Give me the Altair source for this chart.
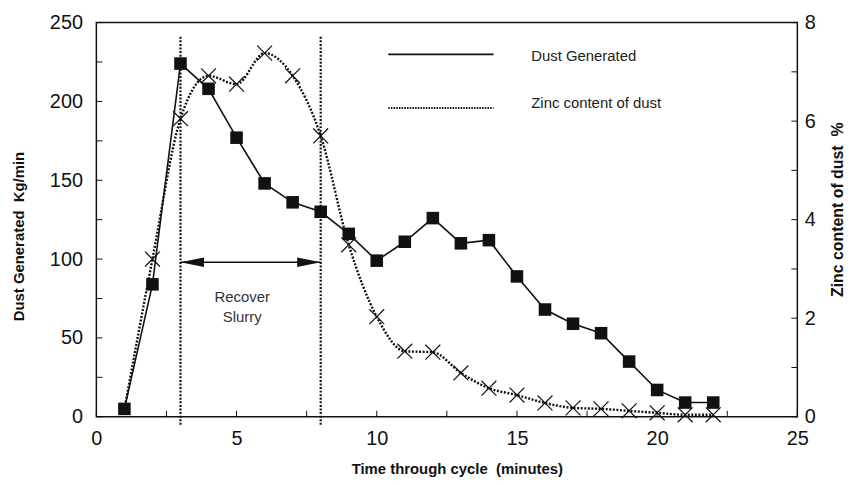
import altair as alt
import pandas as pd

# ---- data ----
time = list(range(1, 23))
dust = [5, 84, 224, 208, 177, 148, 136, 130, 116, 99, 111, 126, 110, 112, 89, 68, 59, 53, 35, 17, 9, 9]
zinc = [0.15, 3.2, 6.05, 6.92, 6.75, 7.38, 6.92, 5.7, 3.49, 2.03, 1.33, 1.31, 0.89, 0.58,
        0.44, 0.28, 0.18, 0.16, 0.12, 0.08, 0.04, 0.04]

x_tick_values = [0, 2.5, 5, 7.5, 10, 12.5, 15, 17.5, 20, 22.5, 25]
x_label_values = [0, 5, 10, 15, 20, 25]
dust_tick_values = [0, 25, 50, 75, 100, 125, 150, 175, 200, 225, 250]
dust_label_values = [0, 50, 100, 150, 200, 250]
zinc_tick_values = [0, 1, 2, 3, 4, 5, 6, 7, 8]
zinc_label_values = [0, 2, 4, 6, 8]

recover_bounds = [3, 8]
rule_span = [241, -5]
arrow_level = 98
annotation_lines = ["Recover", "Slurry"]
annotation_x = [5.2, 5.2]
annotation_y = [76, 63]
legend_labels = ["Dust Generated", "Zinc content of dust"]

W, H = 706, 397
FONT = "Liberation Sans"
INK = "#111111"
GAP = "\u00a0\u00a0"

df = pd.DataFrame({"time": time, "dust": dust, "zinc": zinc})
df_pts = df[df["time"] > 1]

x_axis = alt.Axis(values=x_label_values, title="Time through cycle" + GAP + "(minutes)", grid=False,
                  ticks=False, tickSize=0, domain=False, labelPadding=12, labelFontSize=20,
                  labelFlush=False, labelOverlap=False,
                  labelFont=FONT, labelColor=INK, titleFont=FONT, titleFontSize=15,
                  titleFontWeight="bold", titleColor=INK, titleX=363, titleY=52,
                  titleBaseline="middle", titleAlign="center")
x_scale = alt.Scale(domain=[0, 25], nice=False, zero=False)


def X(field="time"):
    return alt.X(f"{field}:Q", scale=x_scale, axis=x_axis)


dust_axis = alt.Axis(values=dust_label_values, title="Dust Generated" + GAP + "Kg/min", grid=False,
                     ticks=False, tickSize=0, domain=False, labelPadding=14, labelFontSize=20,
                     labelFlush=False, labelOverlap=False,
                     labelFont=FONT, labelColor=INK, titleFont=FONT, titleFontSize=15,
                     titleFontWeight="bold", titleColor=INK, titleX=-78, titleY=215,
                     titleAngle=270, titleBaseline="middle", titleAlign="center")
dust_scale = alt.Scale(domain=[0, 250], nice=False, zero=False)


def YD(field="dust"):
    return alt.Y(f"{field}:Q", scale=dust_scale, axis=dust_axis)


zinc_axis = alt.Axis(values=zinc_label_values, orient="right", title="Zinc content of dust" + GAP + "%",
                     grid=False, ticks=False, tickSize=0, domain=False, labelPadding=7,
                     labelFlush=False, labelOverlap=False,
                     labelFontSize=20, labelFont=FONT, labelColor=INK, titleFont=FONT,
                     titleFontSize=16, titleFontWeight="bold", titleColor=INK, titleX=40,
                     titleY=188, titleAngle=270, titleBaseline="middle", titleAlign="center")
zinc_scale = alt.Scale(domain=[0, 8], nice=False, zero=False)


def YZ(field="zinc"):
    return alt.Y(f"{field}:Q", scale=zinc_scale, axis=zinc_axis)


# ---- left (dust) group ----
dust_line = alt.Chart(df).mark_line(color=INK, strokeWidth=1.6).encode(x=X(), y=YD())
dust_pts = alt.Chart(df).mark_point(shape="square", filled=True, size=160, color=INK,
                                    opacity=1).encode(x=X(), y=YD())

rules_df = pd.DataFrame({"time": recover_bounds, "dust": [rule_span[0]] * 2,
                         "dust_end": [rule_span[1]] * 2})
vrules = alt.Chart(rules_df).mark_rule(color=INK, strokeWidth=2.2, strokeDash=[2, 1.6]).encode(
    x=X(), y=YD(), y2=alt.Y2("dust_end:Q"))

shaft_df = pd.DataFrame({"time": [recover_bounds[0]], "time_end": [recover_bounds[1]],
                         "dust": [arrow_level]})
shaft = alt.Chart(shaft_df).mark_rule(color=INK, strokeWidth=1.5).encode(
    x=X(), x2=alt.X2("time_end:Q"), y=YD())

head_df = pd.DataFrame({"time": recover_bounds, "dust": [arrow_level] * 2, "dir": ["l", "r"]})
heads = alt.Chart(head_df).mark_point(filled=True, size=560, color=INK, opacity=1,
                                      strokeWidth=0).encode(
    x=X(), y=YD(),
    shape=alt.Shape("dir:N", scale=alt.Scale(domain=["l", "r"],
                                             range=["M0,0L2,-0.4L2,0.4Z", "M0,0L-2,-0.4L-2,0.4Z"]),
                    legend=None))

ann_df = pd.DataFrame({"time": annotation_x, "dust": annotation_y, "txt": annotation_lines})
ann = alt.Chart(ann_df).mark_text(font=FONT, fontSize=15, color="#333333").encode(
    x=X(), y=YD(), text="txt:N")

dust_tick_df = pd.DataFrame({"dust": dust_tick_values})
dust_ticks = alt.Chart(dust_tick_df).mark_rule(color=INK, strokeWidth=1).encode(
    x=alt.value(0), x2=alt.value(6), y=YD())

x_tick_df = pd.DataFrame({"time": x_tick_values})
x_ticks = alt.Chart(x_tick_df).mark_rule(color=INK, strokeWidth=1).encode(
    x=X(), y=alt.value(H - 6), y2=alt.value(H))

legend_layers = []
legend_y_line = [32, 86]
legend_y_text = [34, 81]
legend_dash = [[1, 0], [1.5, 1.2]]
legend_width = [1.6, 2.0]
for i, lab in enumerate(legend_labels):
    ldf = pd.DataFrame({"label": [lab]})
    legend_layers.append(alt.Chart(ldf).mark_rule(color=INK, strokeWidth=legend_width[i],
                                                  strokeDash=legend_dash[i]).encode(
        x=alt.value(294), x2=alt.value(400), y=alt.value(legend_y_line[i])))
    legend_layers.append(alt.Chart(ldf).mark_text(font=FONT, fontSize=15, color="#222222", align="left",
                                                  baseline="middle").encode(
        x=alt.value(438), y=alt.value(legend_y_text[i]), text="label:N"))

left = alt.layer(vrules, shaft, heads, ann, dust_ticks, x_ticks, dust_line, dust_pts,
                 *legend_layers)

# ---- right (zinc) group ----
zinc_line = alt.Chart(df).mark_line(color=INK, strokeWidth=2.4, strokeDash=[2, 1.6],
                                    interpolate="monotone").encode(x=X(), y=YZ())
zinc_pts = alt.Chart(df_pts).mark_point(shape="M-1,-1L1,1M1,-1L-1,1", filled=False, size=225,
                                        color=INK, strokeWidth=1.2, opacity=1).encode(
    x=X(), y=YZ())
zinc_tick_df = pd.DataFrame({"zinc": zinc_tick_values})
zinc_ticks = alt.Chart(zinc_tick_df).mark_rule(color=INK, strokeWidth=1).encode(
    x=alt.value(W - 6), x2=alt.value(W), y=YZ())

right = alt.layer(zinc_line, zinc_pts, zinc_ticks)

chart = alt.layer(left, right).resolve_scale(y="independent").properties(
    width=W, height=H, autosize=alt.AutoSizeParams(type="none"),
    padding={"left": 89, "top": 13, "right": 49, "bottom": 61},
    background="white",
).configure_view(stroke=INK, strokeWidth=1.5)

chart.save("out.html", embed_options={"renderer": "svg", "actions": False})
